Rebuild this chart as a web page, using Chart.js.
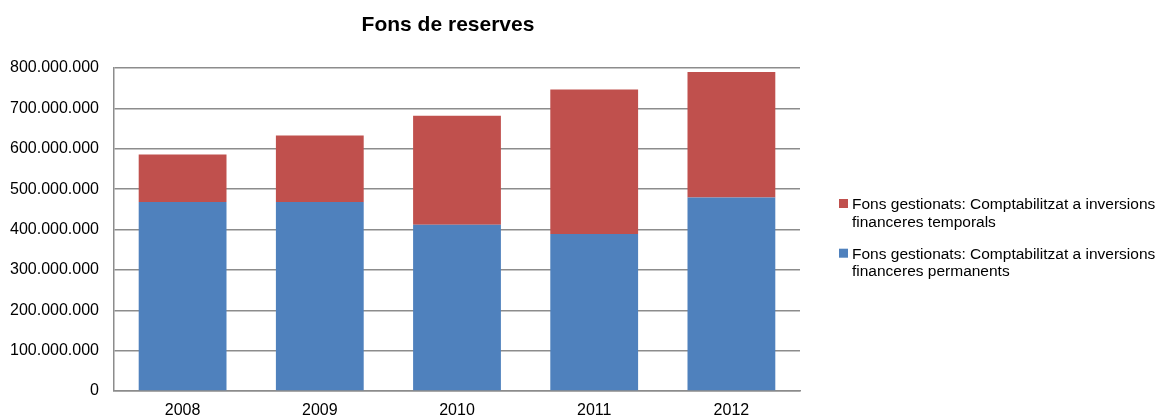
<!DOCTYPE html>
<html>
<head>
<meta charset="utf-8">
<script src="https://cdn.jsdelivr.net/npm/chart.js@4/dist/chart.umd.min.js"></script>
<style>
  html, body { margin: 0; padding: 0; background: #fff; }
  #wrap { position: relative; width: 1165px; height: 418px; }
</style>
</head>
<body>
<div id="wrap"><canvas id="c" width="1165" height="418"></canvas></div>
<script>
const chartTitle = "Fons de reserves";
const categories = ["2008", "2009", "2010", "2011", "2012"];
const permanents = [468000000, 468000000, 412000000, 389000000, 479000000];
const temporals = [118000000, 165000000, 270000000, 358000000, 311000000];
const seriesNames = [
  ["Fons gestionats: Comptabilitzat a inversions", "financeres temporals"],
  ["Fons gestionats: Comptabilitzat a inversions", "financeres permanents"]
];
const yTicksMax = 800000000;
const yStep = 100000000;

const FONT = "'Liberation Sans', Arial, sans-serif";
const BLUE = "#4F81BD";
const RED = "#C0504D";
const GRID = "#8c8c8c";

function fmt(v) {
  return String(Math.round(v)).replace(/\B(?=(\d{3})+(?!\d))/g, ".");
}

const titlePlugin = {
  id: "customTitle",
  afterDraw(chart) {
    const ctx = chart.ctx;
    ctx.save();
    ctx.font = "bold 21px " + FONT;
    ctx.fillStyle = "#000";
    ctx.textAlign = "center";
    ctx.textBaseline = "alphabetic";
    ctx.fillText(chartTitle, 448, 31);
    ctx.restore();
  }
};

const legendPlugin = {
  id: "customLegend",
  afterDraw(chart) {
    const ctx = chart.ctx;
    ctx.save();
    ctx.font = "15.5px " + FONT;
    ctx.fillStyle = "#000";
    ctx.textBaseline = "alphabetic";
    const order = [1, 0];
    const startBase = 209;
    const itemGap = 49.7;
    const lineH = 17.7;
    order.forEach((dsIndex, i) => {
      const ds = chart.data.datasets[dsIndex];
      const base = startBase + i * itemGap;
      ctx.fillStyle = ds.backgroundColor;
      ctx.fillRect(839, base - 10, 9, 9);
      ctx.fillStyle = "#000";
      ds.legendLines.forEach((line, j) => {
        ctx.fillText(line, 852, base + j * lineH);
      });
    });
    ctx.restore();
  }
};

new Chart(document.getElementById("c"), {
  type: "bar",
  data: {
    labels: categories,
    datasets: [
      {
        label: seriesNames[1].join(" "),
        legendLines: seriesNames[1],
        data: permanents,
        backgroundColor: BLUE,
        stack: "s",
        barPercentage: 0.64,
        categoryPercentage: 1
      },
      {
        label: seriesNames[0].join(" "),
        legendLines: seriesNames[0],
        data: temporals,
        backgroundColor: RED,
        stack: "s",
        barPercentage: 0.64,
        categoryPercentage: 1
      }
    ]
  },
  options: {
    responsive: false,
    animation: false,
    devicePixelRatio: 1,
    layout: { padding: { top: 68, right: 365, bottom: 0, left: 0 } },
    plugins: {
      legend: { display: false },
      title: { display: false },
      tooltip: { enabled: false }
    },
    scales: {
      x: {
        stacked: true,
        afterFit(scale) { scale.height = 27; },
        grid: { display: false, drawTicks: false },
        border: { display: true, color: GRID, width: 1.5 },
        ticks: { color: "#000", font: { family: FONT, size: 16 }, padding: 10 }
      },
      y: {
        stacked: true,
        min: 0,
        max: yTicksMax,
        afterFit(scale) { scale.width = 114; },
        grid: { color: GRID, lineWidth: 1.5, drawTicks: false },
        border: { display: true, color: GRID, width: 1.5 },
        ticks: {
          stepSize: yStep,
          color: "#000",
          font: { family: FONT, size: 16 },
          padding: 15,
          callback: (v) => fmt(v)
        }
      }
    }
  },
  plugins: [titlePlugin, legendPlugin]
});
</script>
</body>
</html>
